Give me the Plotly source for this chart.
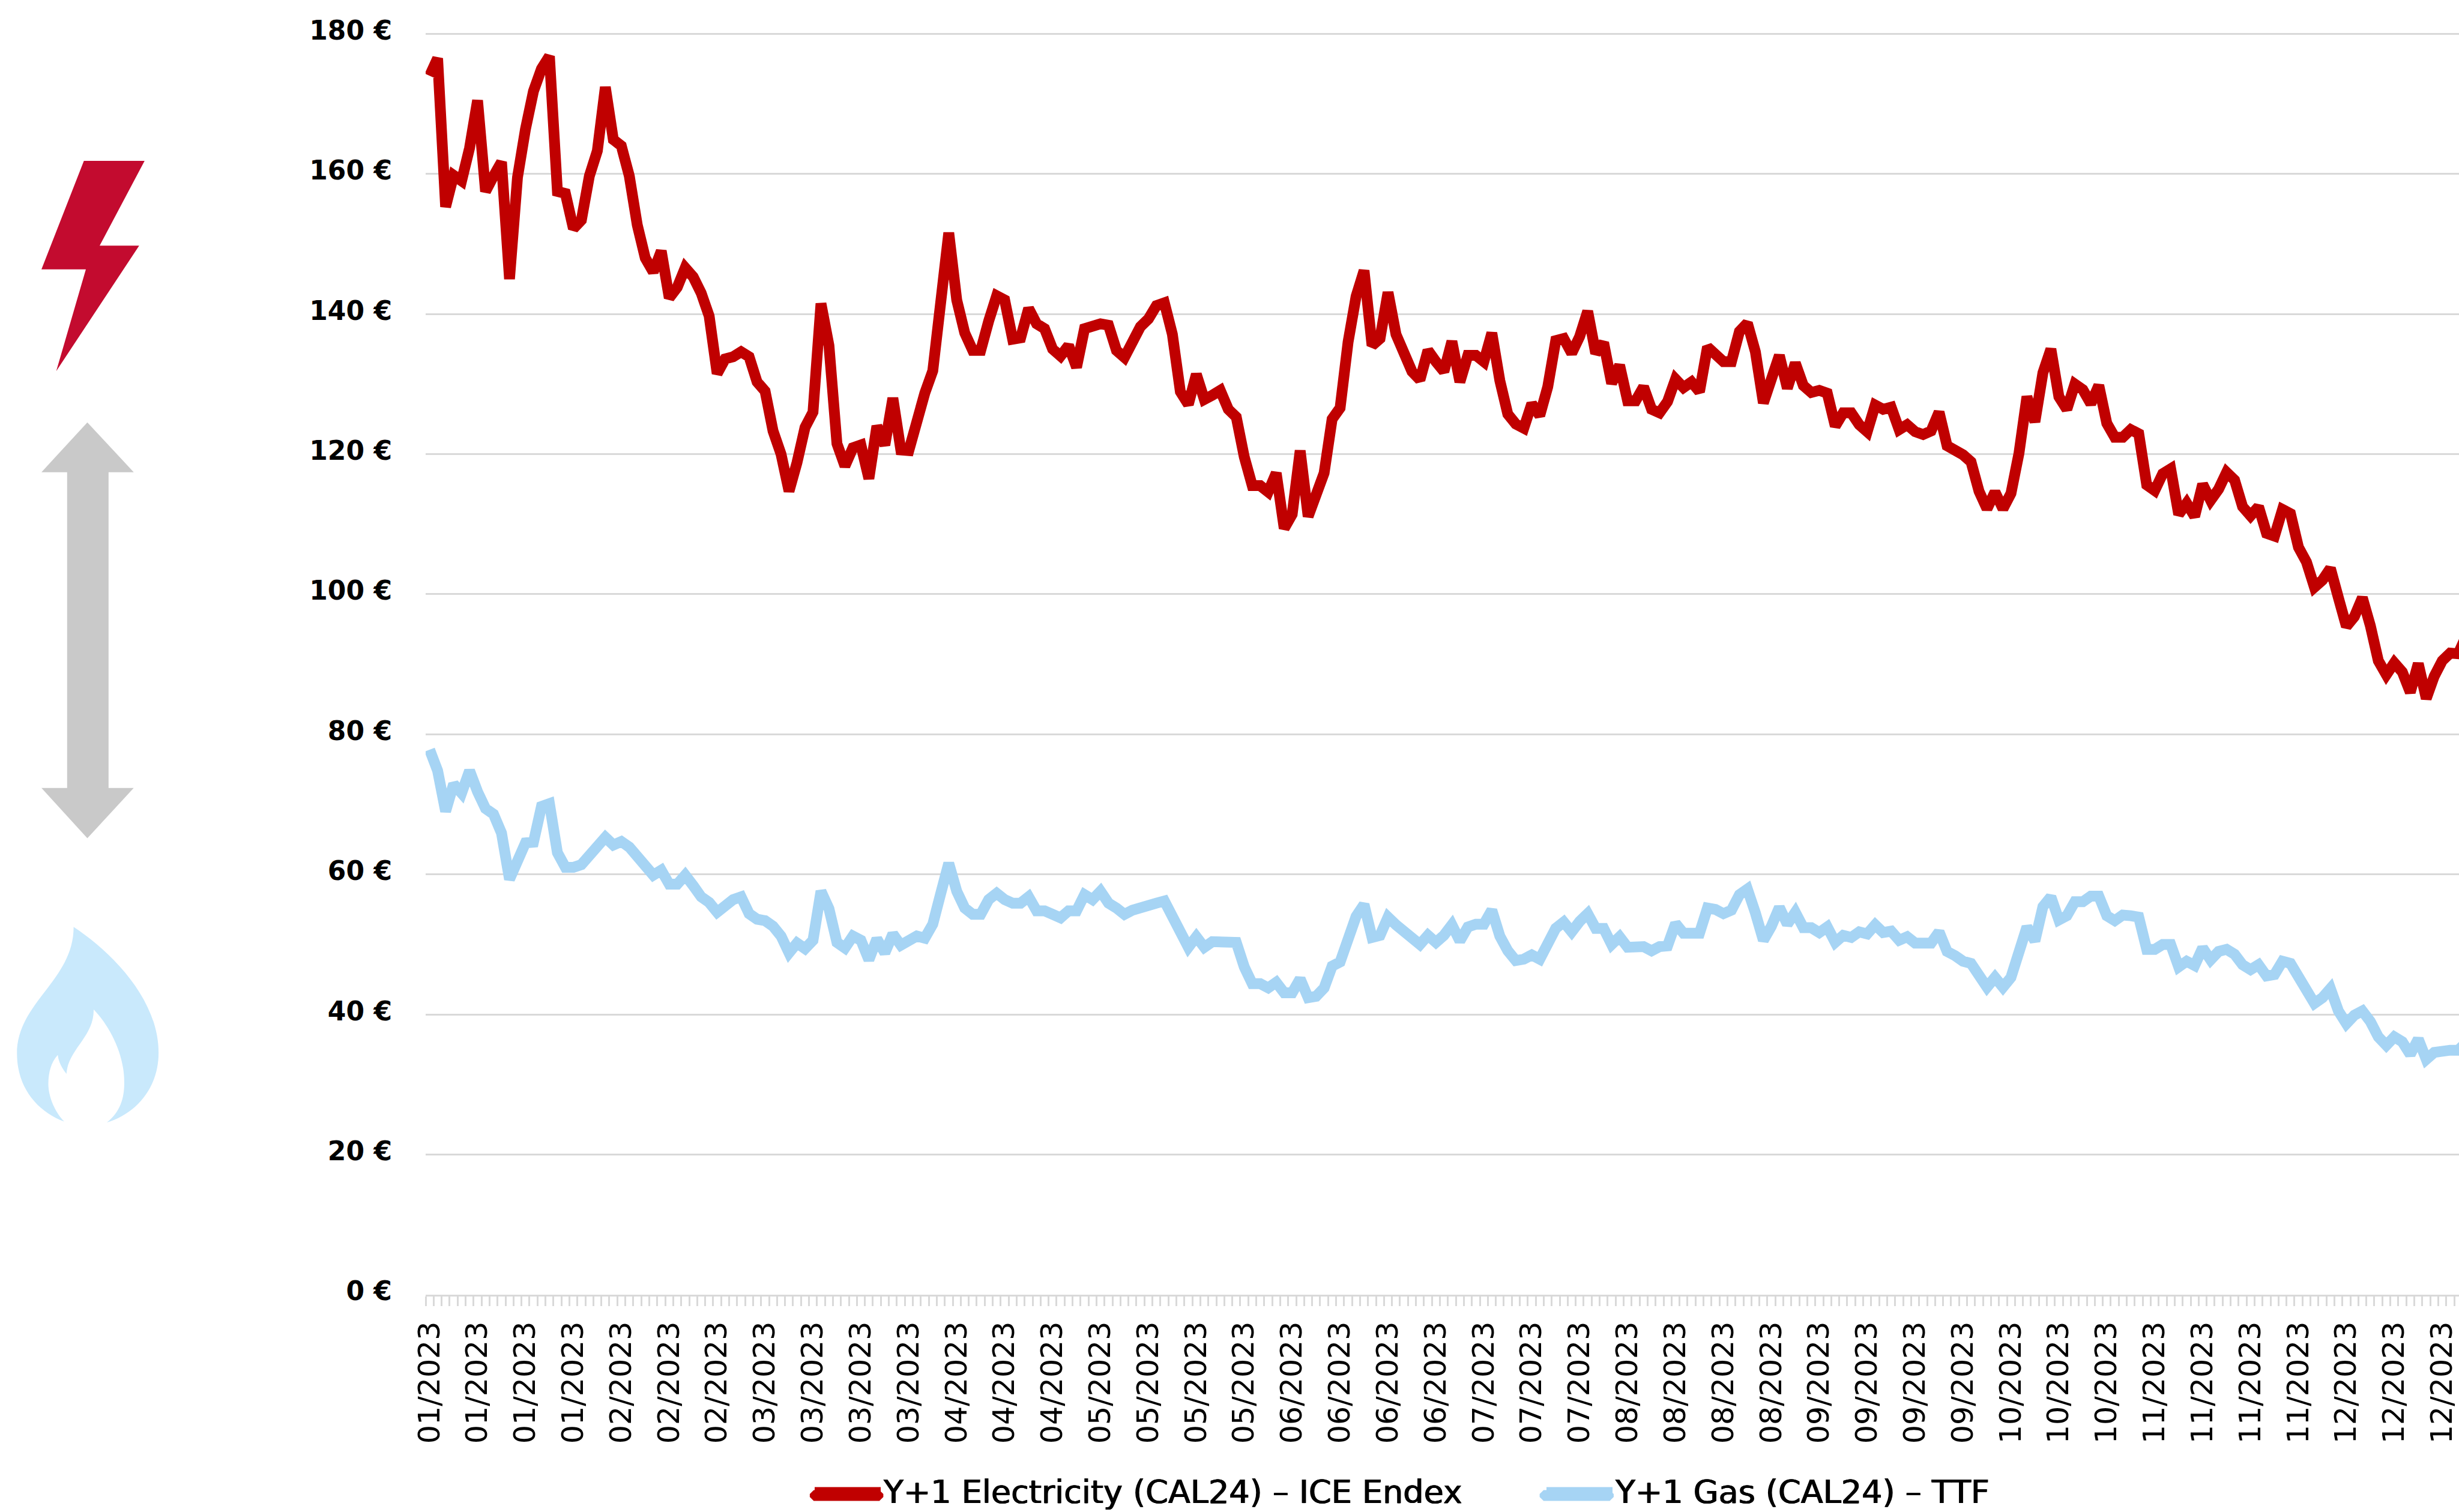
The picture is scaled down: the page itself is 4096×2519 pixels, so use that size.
import plotly.graph_objects as go

W, H = 4096, 2519
K = 0.822
ML, MT = 709, 54
MB = H - 2157
PW, PH = W - ML, H - MT - MB

electricity = [
 174,176.5,155.3,159.8,159,163.7,170.5,157.5,159.7,161.7,145,159.5,166.4,171.8,175,176.8,
 157.5,157.2,152.2,153.4,159.7,163.3,172.4,164.9,164,159.7,152.7,148,146,149,
 142.3,143.8,146.6,145.3,143,139.7,131.5,133.6,133.9,134.6,133.9,130.3,129,123.3,120,114.7,
 118.8,123.8,126,141.5,135.5,121.5,118.3,120.9,121.3,116.5,124,121.3,128,120.6,
 120.5,125.1,128.7,131.9,142,151.6,142,137.3,134.8,134.8,139,142.6,142,136.4,136.6,140.8,
 138.6,137.9,135,134,135.5,132.4,137.9,138.1,138.6,138.4,134.8,133.8,136,138.2,
 139.3,141.2,141.6,137.1,128.9,127.1,131.4,127.8,128.4,129.1,126.4,125.3,119.6,115.5,115.5,
 114.6,117.3,109.4,111.4,120.5,111.1,114.6,117.3,125,126.6,136,142.5,146.2,135.5,136.5,
 143.1,137.1,134.6,131.8,130.6,134.8,133.2,131.8,136.1,130.3,134.1,134.1,133.2,137.3,130.5,
 125.7,124.3,123.7,127.2,125.5,129.6,136.2,136.5,134.4,136.8,140.4,134.4,135.9,130.1,132.7,
 127.6,127.6,129.6,126.4,125.9,127.5,130.7,129.5,130.3,128.9,135.3,134.4,133.2,133.2,137.5,
 138.7,134.6,127.3,130.3,134.1,129.4,133,129.8,128.8,129.1,128.7,124,125.9,125.9,124.2,
 123.2,127,126.4,126.7,123.5,124.2,123.2,122.8,123.3,126,121.2,120.6,119.9,118.9,114.7,
 112.2,114.6,112.2,114.4,120.1,128.2,124.6,131.6,135,128.2,126.4,130,129.2,127.2,129.8,
 124.4,122.4,122.4,123.5,122.9,115.6,114.8,117.2,117.9,111.4,113,111.1,115.7,113.4,115,
 117.4,116.3,112.5,111.2,112.5,108.7,108.3,112.1,111.5,106.7,104.6,101,102,103.7,99.5,
 95.4,96.8,99.5,95.5,90.5,88.5,90.2,88.9,86,90.1,85.1,88.3,90.5,91.6,91.5,94]

gas = [
 77.8,74.8,69,72.9,71.6,74.8,71.8,69.4,68.6,65.9,59.3,61.9,64.5,64.6,69.7,70.1,
 63.1,61,61,61.4,62.9,64.1,65.3,64.2,64.7,63.9,62.5,61.1,59.9,60.6,
 58.6,58.6,59.9,58.4,56.8,56,54.6,55.5,56.4,56.8,54.4,53.6,53.4,52.6,51.2,48.8,
 50.2,49.4,50.6,57.6,55.1,50.3,49.5,51.2,50.6,47.8,50.8,48.8,51.5,49.9,
 50.6,51.2,50.9,52.9,57.3,61.6,57.6,55.2,54.3,54.3,56.4,57.3,56.4,55.9,55.9,56.8,
 54.8,54.8,54.3,53.8,54.8,54.8,57.1,56.4,57.6,55.9,55.2,54.3,54.9,55.3,
 55.9,55.9,56.2,54,51.1,49.6,51.1,49.6,50.4,50.4,50.6,50.3,46.8,44.4,44.4,
 43.8,44.6,43.1,43.1,45.1,42.4,42.6,43.8,46.9,47.5,51,54,55.7,51,51.3,
 53.9,52.8,51.8,51.1,50,51.3,50.3,51.3,52.8,50.5,52.5,52.9,52.9,54.9,51.2,
 49.1,47.7,47.9,48.5,47.9,50.4,52.3,53.2,51.8,53.3,54.4,52.3,52.3,50,51.1,
 49.6,49.5,49.7,49.1,49.7,49.8,53,51.6,51.5,51.6,55.2,55,54.4,54.9,57.1,
 57.9,54.5,50.6,52.6,55.3,52.9,54.6,52.4,52.4,51.7,52.5,50.3,51.3,51,51.8,
 51.5,52.8,51.7,51.9,50.6,51.1,50.2,50.2,50.2,51.8,49,48.4,47.6,47.3,45.6,
 43.9,45.3,43.9,45.3,48.6,52.5,50.5,55.4,56.8,53.5,54.1,56.1,56.1,56.9,56.9,
 54.1,53.4,54.2,54.1,53.9,49.3,49.3,50,50,46.8,47.6,47,49.5,47.8,49,
 49.3,48.6,47.1,46.4,47.1,45.5,45.7,47.6,47.3,45.3,43.9,41.6,42.4,43.7,40.5,
 38.7,39.9,40.5,39,36.8,35.6,36.8,36.1,34.3,36.5,33.6,34.6,34.9,34.9,34.9,36]

month_counts = [("01",4),("02",3),("03",4),("04",3),("05",4),("06",4),("07",3),
                ("08",4),("09",4),("10",3),("11",4),("12",3)]
tick_labels = [f"{m}/2023" for m, c in month_counts for _ in range(c)]
tick_positions = [6 * i for i in range(len(tick_labels))]
y_ticks = list(range(0, 181, 20))
idx = list(range(len(electricity)))

RED, BLUE, GRID = "#C00000", "#A6D4F4", "#D9D9D9"

fig = go.Figure()
fig.add_trace(go.Scatter(x=idx, y=electricity, mode="lines", name="Y+1 Electricity (CAL24) – ICE Endex",
                         line=dict(color=RED, width=18)))
fig.add_trace(go.Scatter(x=idx, y=gas, mode="lines", name="Y+1 Gas (CAL24) – TTF",
                         line=dict(color=BLUE, width=18)))

def px(x): return (x * K - ML) / PW
def py(y): return 1 - (y * K - MT) / PH

def poly(points):
    return "M" + " L".join(f"{px(x):.5f},{py(y):.5f}" for x, y in points) + " Z"

def pill(x0, x1, y0, y1):
    r = 8
    pts = [(x0+r,y0),(x1-r,y0),(x1,y0+r),(x1,y1-r),(x1-r,y1),(x0+r,y1),(x0,y1-r),(x0,y0+r)]
    return poly(pts)

flash = [(170,326),(293,326),(202,498),(282,498),(114,752),(174,546),(84,546)]
arrow = [(177,856),(271,957),(220,957),(220,1597),(271,1597),(177,1699),(84,1597),(136,1597),(136,957),(84,957)]

# flame outline, in pixels of the reference
sx, sy = 1.307, 1.148
flame_start = (195,205)
flame_curves = [
 (290,260,420,370,420,498),(420,580,360,640,283,660),(320,635,330,600,329,565),
 (329,500,290,435,248,397),(250,460,180,490,176,547),(165,535,155,520,153,503),
 (135,520,128,545,128,570),(128,600,145,635,170,658),(100,635,45,580,45,500),
 (45,380,195,330,195,205)]
def fp(x, y): return f"{px(x/sx):.5f},{py(1700+y/sy):.5f}"
flame = "M" + fp(*flame_start)
for c in flame_curves:
    flame += " C" + " ".join(fp(c[i], c[i+1]) for i in (0,2,4))
flame += " Z"

decor = [(poly(flash), "#C30B2F"), (poly(arrow), "#C9C9C9"), (flame, "#C9E9FC"),
         (pill(1641,1790,3020,3042), RED), (pill(3120,3270,3020,3042), BLUE)]
shapes = [dict(type="path", xref="paper", yref="paper", path=p, fillcolor=c, line=dict(width=0), layer="above")
          for p, c in decor]

fig.update_layout(
    width=W, height=H, margin=dict(l=ML, r=0, t=MT, b=MB, pad=0),
    paper_bgcolor="white", plot_bgcolor="white", shapes=shapes,
    showlegend=True,
    legend=dict(orientation="h", x=1352/W, xanchor="left", xref="container", y=1-2483/H, yanchor="middle", yref="container",
                font=dict(family="DejaVu Sans", size=54, color="#000", shadow="0.7px 0 0 #000, -0.7px 0 0 #000"),
                itemwidth=110, entrywidth=1094, entrywidthmode="pixels", tracegroupgap=0, bgcolor="rgba(0,0,0,0)"),
    xaxis=dict(range=[-0.5, 254.1], tickmode="array", tickvals=tick_positions, ticktext=tick_labels,
               tickangle=-90, tickfont=dict(family="DejaVu Sans", size=49, color="#000"),
               ticks="", showgrid=False, showline=True, linecolor=GRID, linewidth=3, zeroline=False,
               ticklabelstandoff=22,
               minor=dict(tick0=-0.5, dtick=1, ticks="outside", ticklen=16, tickwidth=3, tickcolor=GRID, showgrid=False)),
    yaxis=dict(range=[0, 180.2], tickmode="array", tickvals=y_ticks, ticktext=[f"{v} €" for v in y_ticks],
               tickfont=dict(family="DejaVu Sans", size=44, color="#000", weight="bold"),
               ticks="", showgrid=True, gridcolor=GRID, gridwidth=3, zeroline=False, showline=False,
               ticklabelstandoff=55, ticklabelshift=-6),
)

fig.write_html("out.html", config=dict(displayModeBar=False),
               post_script="document.body.style.margin='0';document.body.style.overflow='hidden';")
